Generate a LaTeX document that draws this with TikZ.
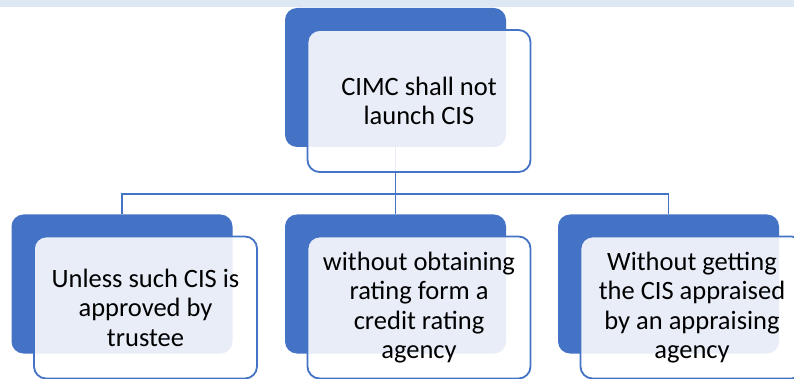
\documentclass[tikz,border=0pt]{standalone}
\usepackage{fontspec}
\setmainfont{Carlito}
\definecolor{boxblue}{HTML}{4472C4}
\definecolor{bandblue}{HTML}{DEE8F5}
\tikzset{
  backbox/.style={rectangle, rounded corners=12pt, fill=boxblue, draw=none,
    minimum width=221pt, minimum height=139pt, inner sep=0pt},
  frontbox/.style={rectangle, rounded corners=12pt, fill=white, fill opacity=0.88,
    text opacity=1, draw=boxblue, draw opacity=1, line width=1.8pt,
    minimum width=223pt, minimum height=142pt, inner sep=0pt, align=center,
    font=\fontsize{26.5}{29.5}\selectfont},
  link/.style={draw=boxblue, line width=1.8pt}
}
\begin{document}
\begin{tikzpicture}[x=1pt, y=-1pt]
  \useasboundingbox (0,0) rectangle (794,379);
  \clip (0,0) rectangle (794,379);
  % band along the top edge
  \fill[bandblue] (0,0) rectangle (794,7);
  % shadow cards behind each box
  \node[backbox] (tb) at (395.5,77.5) {};
  \node[backbox] (lb) at (122,284) {};
  \node[backbox] (mb) at (395.5,284) {};
  \node[backbox] (rb) at (668.5,284) {};
  % tree connectors
  \coordinate (bar) at (395.5,194);
  \draw[link] (tb.south) -- (bar);
  \draw[link] (lb.north) |- (bar) -| (rb.north);
  \draw[link] (bar) -- (mb.north);
  % text cards
  \node[frontbox] (tf) at (419,101) {CIMC shall not\\launch CIS};
  \node[frontbox] (lf) at (145.5,307.5) {Unless such CIS is\\approved by\\trustee};
  \node[frontbox] (mf) at (419,307.5) {without obtaining\\rating form a\\credit rating\\agency};
  \node[frontbox] (rf) at (692,307.5) {Without getting\\the CIS appraised\\by an appraising\\agency};
\end{tikzpicture}
\end{document}
